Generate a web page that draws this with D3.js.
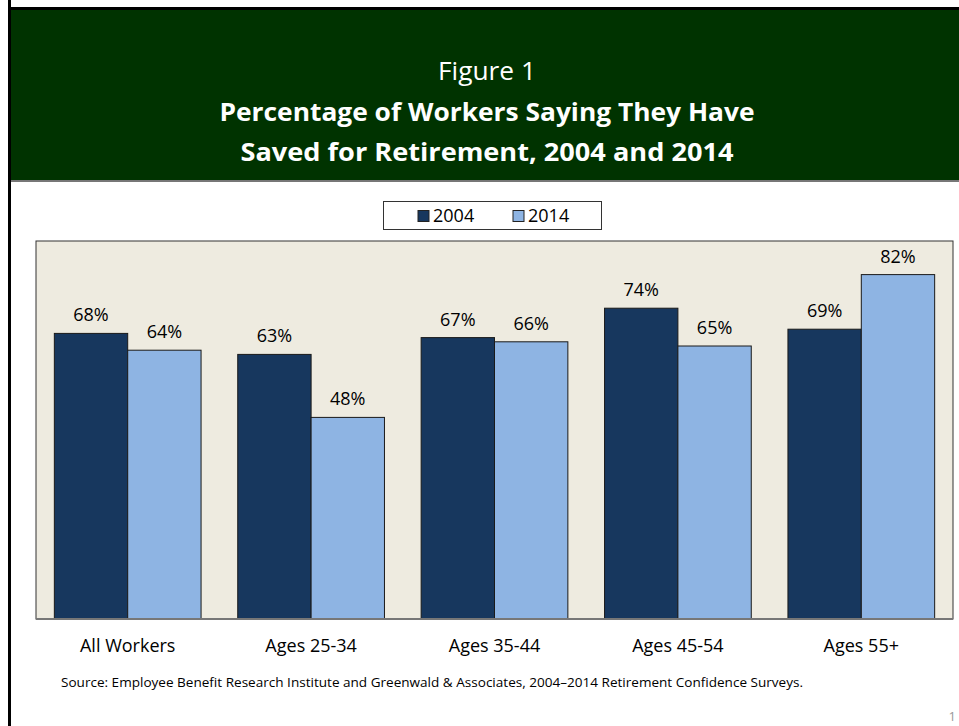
<!DOCTYPE html>
<html><head><meta charset="utf-8">
<script src="https://cdn.jsdelivr.net/npm/d3@7"></script>
<style>body{margin:0;background:#fff;}svg{display:block;}</style>
</head><body>
<script>
const categories = ["All Workers","Ages 25-34","Ages 35-44","Ages 45-54","Ages 55+"];
const seriesNames = ["2004","2014"];
const values2004 = [68,63,67,74,69];
const values2014 = [64,48,66,65,82];
const colors = ["#17375E","#8EB4E3"];
const yMax = 90;

const W = 959, H = 726;
const font = "'Open Sans', 'Noto Sans', sans-serif";
const svg = d3.select("body").append("svg").attr("width",W).attr("height",H);

// slide frame
svg.append("rect").attr("x",8).attr("y",0).attr("width",3).attr("height",H).attr("fill","#000");
svg.append("rect").attr("x",8).attr("y",7).attr("width",W-8).attr("height",174).attr("fill","#000");
svg.append("rect").attr("x",11).attr("y",10).attr("width",W-11).attr("height",170).attr("fill","#003300");
svg.append("rect").attr("x",11).attr("y",180).attr("width",W-11).attr("height",2).attr("fill","#777");

const cx = 487;
svg.append("text").attr("x",cx).attr("y",80).attr("text-anchor","middle")
  .attr("font-family",font).attr("font-size",25).attr("fill","#fff")
  .attr("textLength",98).attr("lengthAdjust","spacingAndGlyphs").text("Figure 1");
svg.append("text").attr("x",cx).attr("y",121).attr("text-anchor","middle")
  .attr("font-family",font).attr("font-weight","bold").attr("font-size",25).attr("fill","#fff")
  .attr("textLength",535).attr("lengthAdjust","spacingAndGlyphs")
  .text("Percentage of Workers Saying They Have");
svg.append("text").attr("x",cx).attr("y",161).attr("text-anchor","middle")
  .attr("font-family",font).attr("font-weight","bold").attr("font-size",25).attr("fill","#fff")
  .attr("textLength",493).attr("lengthAdjust","spacingAndGlyphs")
  .text("Saved for Retirement, 2004 and 2014");

// plot area
const pl = 36, pr = 953, pt = 241, pb = 619;
svg.append("rect").attr("x",pl).attr("y",pt).attr("width",pr-pl).attr("height",pb-pt)
  .attr("fill","#EEEBE0").attr("stroke","#333").attr("stroke-width",1);

const x = d3.scaleBand().domain(categories).range([pl,pr]).paddingInner(0.2).paddingOuter(0.1);
const xs = d3.scaleBand().domain(seriesNames).range([0,x.bandwidth()]);
const y = d3.scaleLinear().domain([0,yMax]).range([pb,pt]);

const series = [values2004, values2014];
series.forEach((vals,si)=>{
  const g = svg.append("g");
  g.selectAll("rect").data(vals).join("rect")
    .attr("x",(d,i)=>x(categories[i])+xs(seriesNames[si]))
    .attr("y",d=>y(d))
    .attr("width",xs.bandwidth())
    .attr("height",d=>y(0)-y(d))
    .attr("fill",colors[si]).attr("stroke","#1a1a1a").attr("stroke-width",1);
  g.selectAll("text").data(vals).join("text")
    .attr("x",(d,i)=>x(categories[i])+xs(seriesNames[si])+xs.bandwidth()/2)
    .attr("y",d=>y(d)-12)
    .attr("text-anchor","middle").attr("font-family",font).attr("font-size",18).attr("fill","#000")
    .text(d=>d+"%");
});
// baseline
svg.append("line").attr("x1",pl).attr("x2",pr).attr("y1",pb).attr("y2",pb)
  .attr("stroke","#777").attr("stroke-width",2);

// x axis labels
const xAxis = d3.axisBottom(x).tickSize(0).tickPadding(20);
const ax = svg.append("g").attr("transform",`translate(0,${pb})`).call(xAxis);
ax.select(".domain").remove();
ax.selectAll("text").attr("font-family",font).attr("font-size",18).attr("fill","#000");

// legend
const lg = svg.append("g");
lg.append("rect").attr("x",383.5).attr("y",201.5).attr("width",218).attr("height",28)
  .attr("fill","#fff").attr("stroke","#333");
const legX = [418,513];
seriesNames.forEach((s,i)=>{
  lg.append("rect").attr("x",legX[i]).attr("y",210.5).attr("width",11).attr("height",11)
    .attr("fill",colors[i]).attr("stroke","#222");
  lg.append("text").attr("x",legX[i]+15).attr("y",222).attr("font-family",font).attr("font-size",18)
    .attr("fill","#000").text(s);
});

// source
svg.append("text").attr("x",61).attr("y",687).attr("font-family",font).attr("font-size",12).attr("fill","#000")
  .attr("textLength",742).attr("lengthAdjust","spacingAndGlyphs")
  .text("Source:  Employee Benefit Research Institute and Greenwald & Associates, 2004\u20132014 Retirement Confidence Surveys.");

svg.append("text").attr("x",956).attr("y",721).attr("text-anchor","end").attr("font-family",font)
  .attr("font-size",13).attr("fill","#999").text("1");
</script>
</body></html>
